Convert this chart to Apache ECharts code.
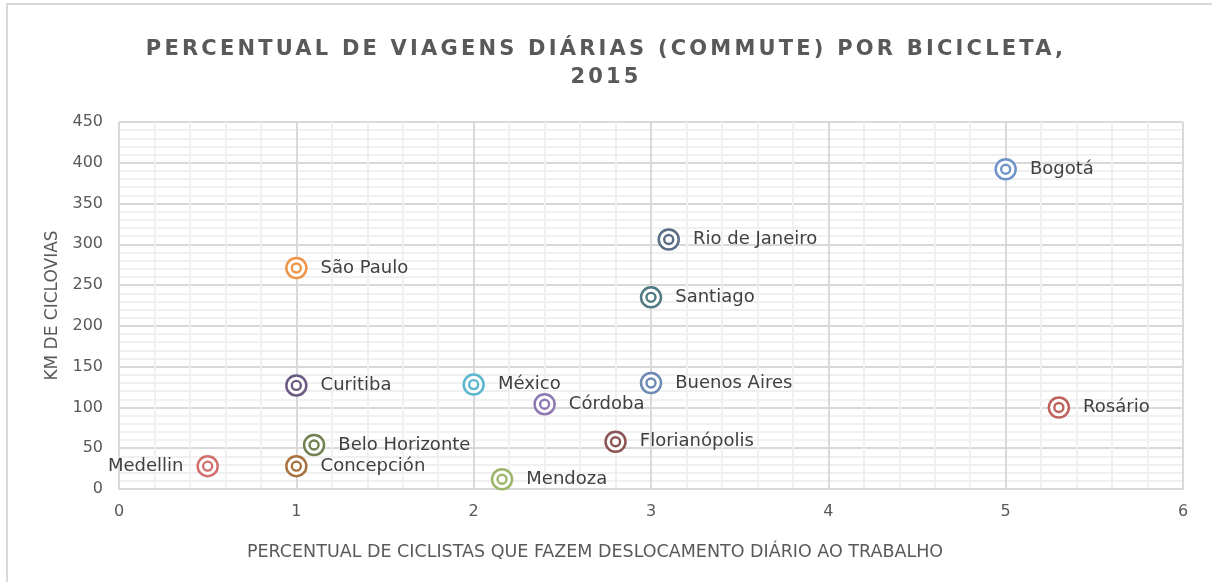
<!DOCTYPE html>
<html>
<head>
<meta charset="utf-8">
<script src="https://cdn.jsdelivr.net/npm/echarts@6/dist/echarts.min.js"></script>
<style>
  html, body { margin: 0; padding: 0; background: #fff; overflow: hidden; }
  #wrap { position: relative; width: 1212px; height: 582px; overflow: hidden; }
  #lineTop { position: absolute; left: 6px; top: 3px; width: 1220px; height: 2px; background: #d9d9d9; }
  #lineLeft { position: absolute; left: 6px; top: 3px; width: 2px; height: 600px; background: #d9d9d9; }
  #title { position: absolute; left: 0; top: 34px; width: 1212px; text-align: center;
           font-family: "DejaVu Sans", sans-serif; font-weight: bold; font-size: 21px;
           letter-spacing: 3.2px; line-height: 28px; color: #595959; }
  #chart { position: absolute; left: 0; top: 0; width: 1212px; height: 582px; }
</style>
</head>
<body>
<div id="wrap">
  <div id="lineTop"></div>
  <div id="lineLeft"></div>
  <div id="chart"></div>
  <div id="title">PERCENTUAL DE VIAGENS DIÁRIAS (COMMUTE) POR BICICLETA,<br>2015</div>
</div>
<script>
// dados
const cidades = ['Bogotá', 'Rio de Janeiro', 'São Paulo', 'Santiago', 'Curitiba', 'México',
  'Buenos Aires', 'Córdoba', 'Rosário', 'Florianópolis', 'Belo Horizonte', 'Medellin',
  'Concepción', 'Mendoza'];
const percentualCiclistas = [5.0, 3.1, 1.0, 3.0, 1.0, 2.0, 3.0, 2.4, 5.3, 2.8, 1.1, 0.5, 1.0, 2.16];
const kmCiclovias = [392, 306, 271, 235, 127, 128, 130, 104, 100, 58, 54, 28, 28, 12];
const cores = ['#7094c8', '#5b6e88', '#ef9447', '#4f7a83', '#6b5b82', '#5cb6cd',
  '#6d8ab5', '#8f79b1', '#c0625c', '#8b5353', '#718152', '#d26f6c', '#a8713e', '#9bb66b'];
const xTicks = [0, 1, 2, 3, 4, 5, 6];
const yTicks = [0, 50, 100, 150, 200, 250, 300, 350, 400, 450];

const chart = echarts.init(document.getElementById('chart'));

const outer = cidades.map((nome, i) => ({
  value: [percentualCiclistas[i], kmCiclovias[i]],
  name: nome,
  itemStyle: { borderColor: cores[i] },
  label: { position: nome === 'Medellin' ? 'left' : 'right' }
}));
const inner = cidades.map((nome, i) => ({
  value: [percentualCiclistas[i], kmCiclovias[i]],
  itemStyle: { borderColor: cores[i] }
}));

const axisText = { color: '#595959', fontSize: 16, fontFamily: 'DejaVu Sans' };

chart.setOption({
  animation: false,
  grid: { left: 119, right: 29, top: 122, bottom: 93 },
  xAxis: {
    type: 'value',
    min: xTicks[0], max: xTicks[xTicks.length - 1], interval: 1,
    name: 'PERCENTUAL DE CICLISTAS QUE FAZEM DESLOCAMENTO DIÁRIO AO TRABALHO',
    nameLocation: 'middle', nameGap: 54,
    // o título do eixo fica um pouco à esquerda do centro da área
    nameTextStyle: { color: '#595959', fontSize: 17.5, fontFamily: 'DejaVu Sans', padding: [0, 112, 0, 0] },
    axisLine: { show: true, lineStyle: { color: '#d9d9d9', width: 2 } },
    axisTick: { show: false },
    axisLabel: Object.assign({ margin: 15 }, axisText),
    splitLine: { show: true, lineStyle: { color: '#d9d9d9', width: 2 } },
    minorTick: { show: false, splitNumber: 5 },
    minorSplitLine: { show: true, lineStyle: { color: '#f0f0f0', width: 2 } }
  },
  yAxis: {
    type: 'value',
    min: yTicks[0], max: yTicks[yTicks.length - 1], interval: 50,
    name: 'KM DE CICLOVIAS',
    nameLocation: 'middle', nameGap: 56,
    nameTextStyle: { color: '#595959', fontSize: 17, fontFamily: 'DejaVu Sans' },
    axisLine: { show: false },
    axisTick: { show: false },
    axisLabel: Object.assign({ margin: 16 }, axisText),
    splitLine: { show: true, lineStyle: { color: '#d9d9d9', width: 2 } },
    minorTick: { show: false, splitNumber: 5 },
    minorSplitLine: { show: true, lineStyle: { color: '#f0f0f0', width: 2 } }
  },
  series: [
    {
      type: 'scatter',
      symbol: 'circle',
      symbolSize: 20,
      itemStyle: { color: '#fff', borderWidth: 2.5, opacity: 1 },
      label: {
        show: true,
        formatter: p => p.name,
        distance: 13,
        color: '#404040',
        fontSize: 18,
        fontFamily: 'DejaVu Sans'
      },
      data: outer,
      z: 3
    },
    {
      type: 'scatter',
      symbol: 'circle',
      symbolSize: 9,
      itemStyle: { color: '#fff', borderWidth: 2.4, opacity: 1 },
      data: inner,
      z: 4,
      silent: true
    }
  ]
});
</script>
</body>
</html>
